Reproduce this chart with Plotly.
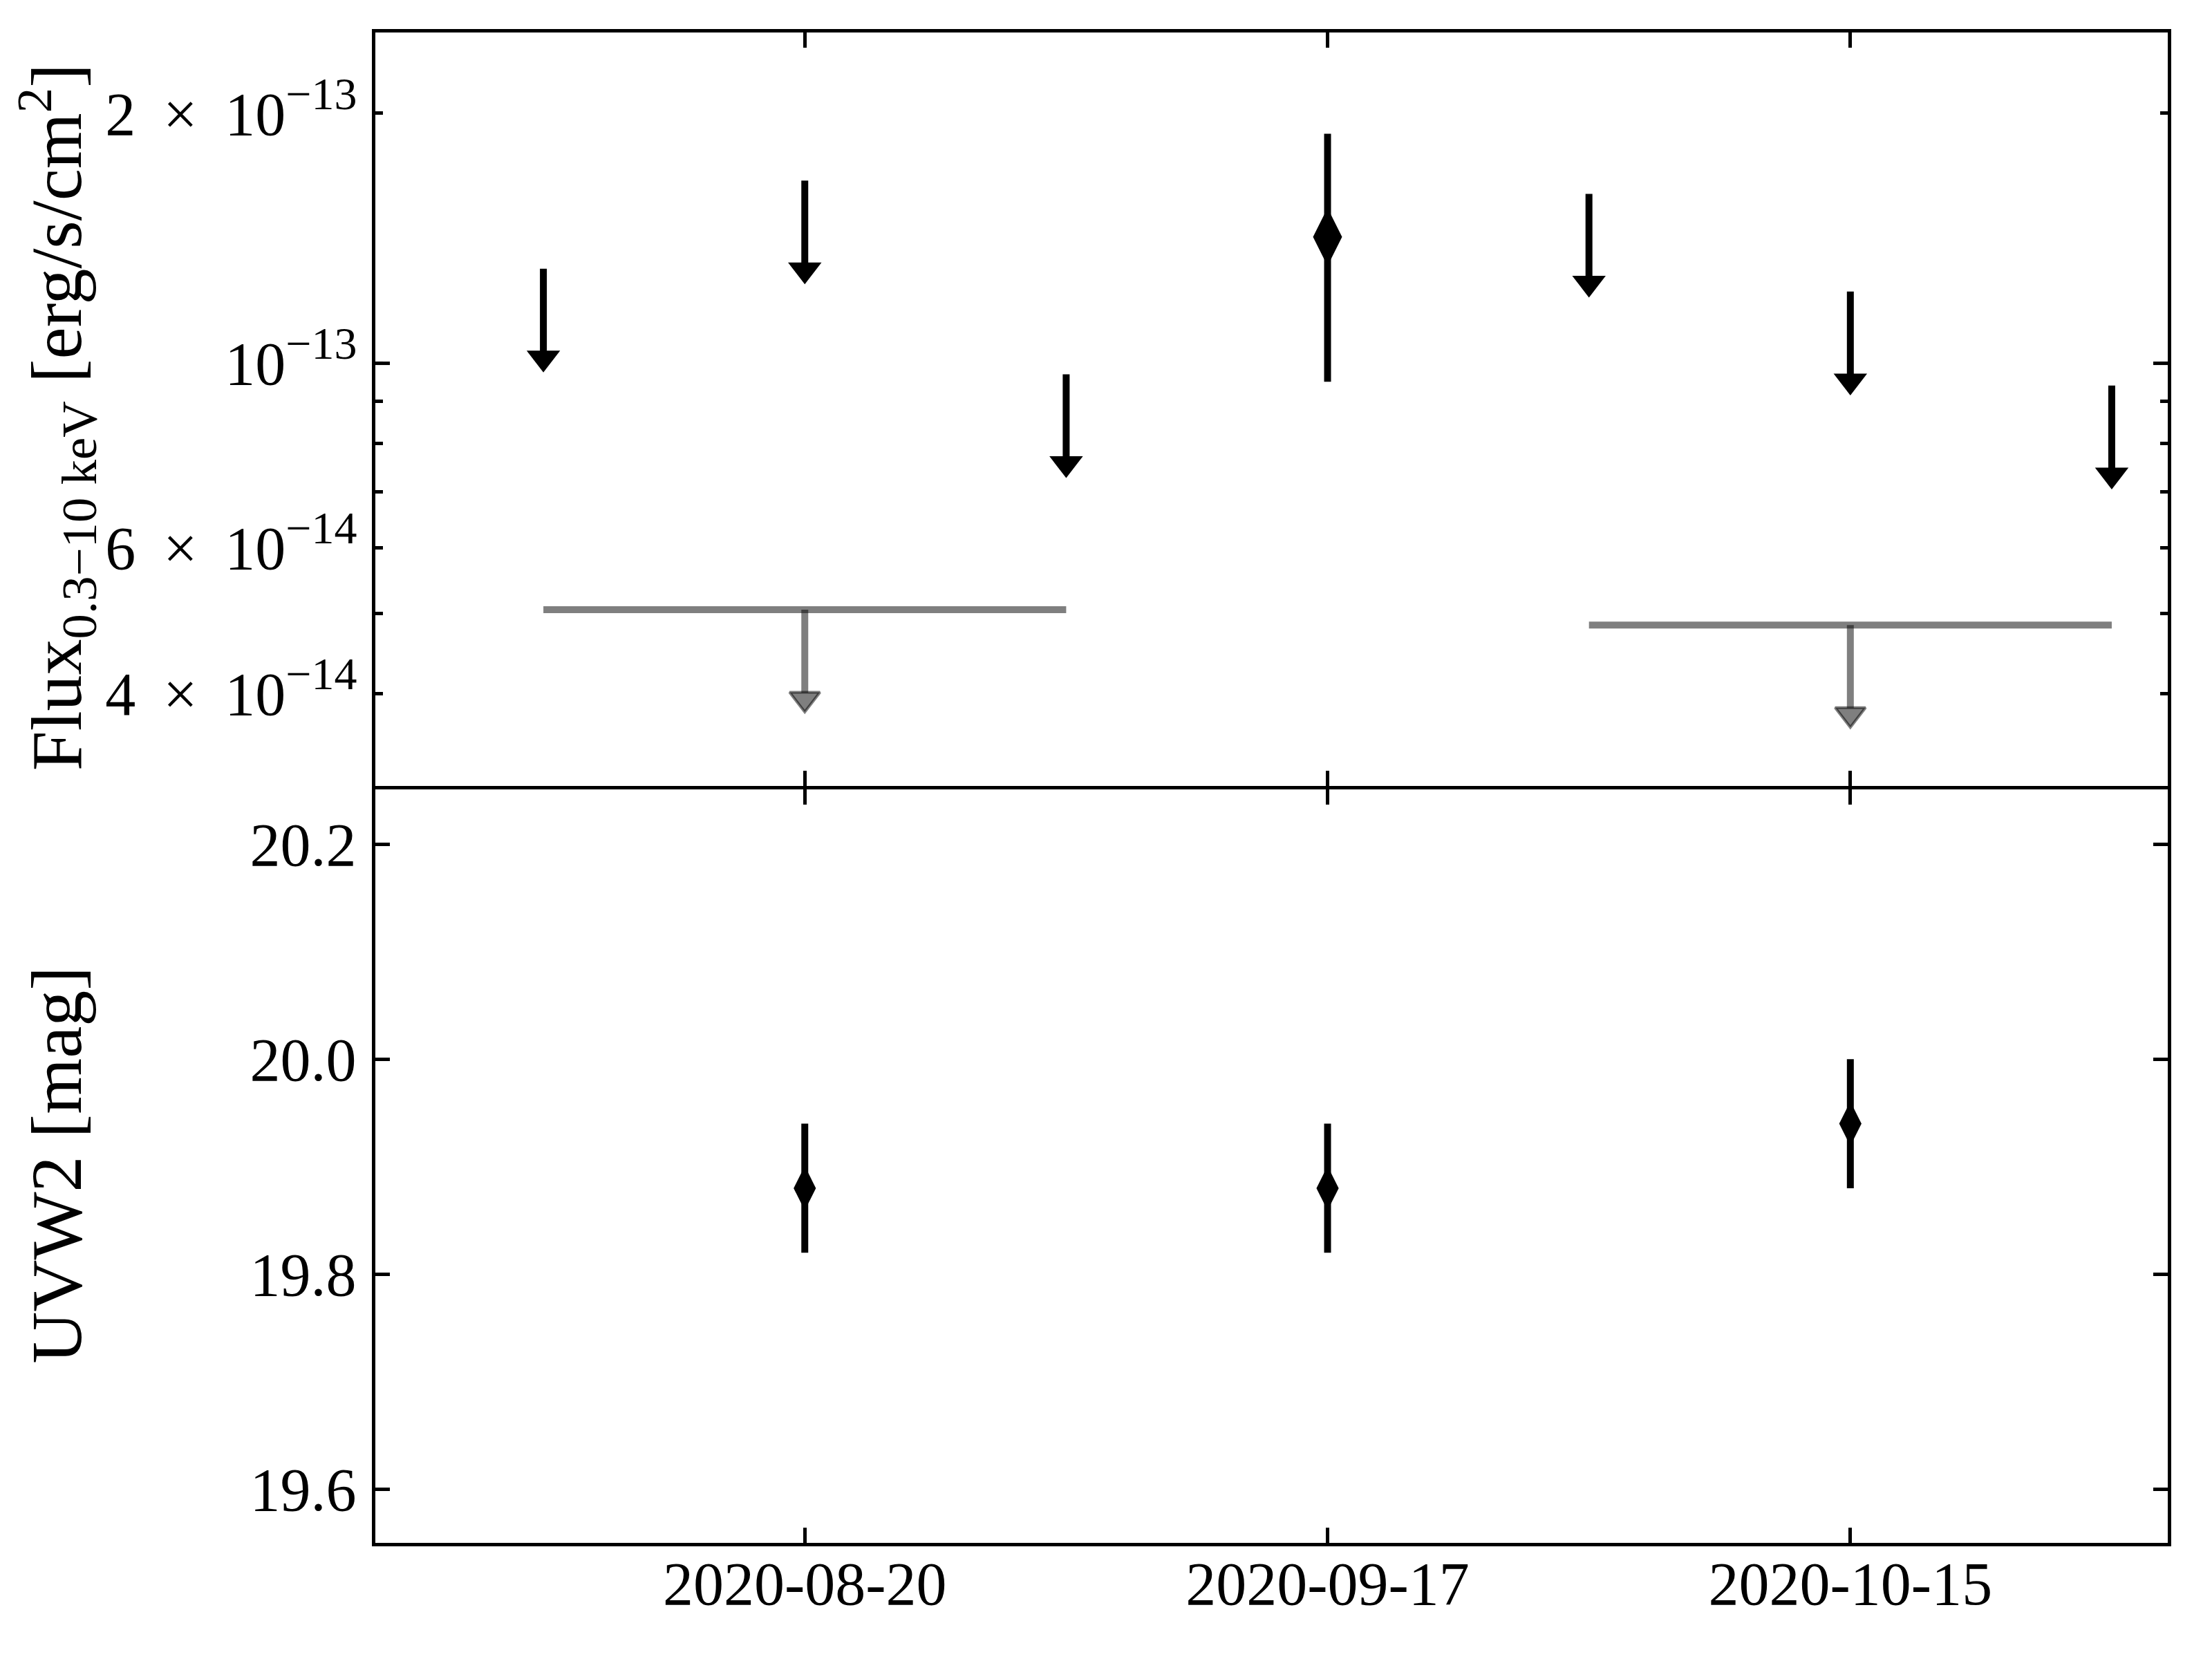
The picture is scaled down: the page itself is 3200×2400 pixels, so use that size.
import plotly.graph_objects as go
from plotly.subplots import make_subplots
import pandas as pd

# ---------------- data ----------------
# X-ray upper limits (single observations)
ul_dates = ["2020-08-06", "2020-08-20", "2020-09-03", "2020-10-01", "2020-10-15", "2020-10-29"]
ul_flux = [1.30e-13, 1.66e-13, 9.7e-14, 1.60e-13, 1.22e-13, 9.4e-14]

# X-ray detection
det_dates = ["2020-09-17"]
det_flux = [1.42e-13]
det_err = [4.7e-14]

# stacked upper limits (grey)
stack_dates = ["2020-08-20", "2020-10-15"]
stack_flux = [5.05e-14, 4.84e-14]
stack_halfspan_days = [14, 14]

# UVW2 magnitudes
uv_dates = ["2020-08-20", "2020-09-17", "2020-10-15"]
uv_mag = [19.88, 19.88, 19.94]
uv_err = [0.06, 0.06, 0.06]

# axis ticks
SUP = '<sup><span style="font-size:66px">{}</span></sup>'
x_tickvals = ["2020-08-20", "2020-09-17", "2020-10-15"]
x_range = ["2020-07-28", "2020-11-01"]
flux_tickvals = [4e-14, 6e-14, 1e-13, 2e-13]
flux_ticktext = ["4 \u2009×\u2009 10" + SUP.format("−14"),
                 "6 \u2009×\u2009 10" + SUP.format("−14"),
                 "10" + SUP.format("−13"),
                 "2 \u2009×\u2009 10" + SUP.format("−13")]
flux_minor = [5e-14, 7e-14, 8e-14, 9e-14]
mag_tickvals = [19.6, 19.8, 20.0, 20.2]
mag_ticktext = ["19.6", "19.8", "20.0", "20.2"]

ARROW_FRAC = 0.25   # upper-limit arrow length (fraction of value)
SHAFT_PART = 0.8    # part of the arrow covered by the shaft (rest is the head)

# ---------------- styles ----------------
FONT = "Liberation Serif"
TICK_FS = 88
TITLE_FS = 104
LW = 10
AXW = 5
GREY = "rgba(0,0,0,0.5)"
HEAD = 42

FIG_W, FIG_H = 3192, 2392          # page body has an 8px margin
M_L, M_R, M_T, M_B = 535, 64, 39, 168
PLOT_H = FIG_H - M_T - M_B
PLOT_W = FIG_W - M_L - M_R
gap = AXW / PLOT_H                 # so the two boundary lines coincide

fig = make_subplots(rows=2, cols=1, shared_xaxes=True, vertical_spacing=0)


def shafts(dates, vals):
    xs, ys = [], []
    for d, f in zip(dates, vals):
        xs += [d, d, None]
        ys += [f, f * (1 - ARROW_FRAC) ** SHAFT_PART, None]
    return xs, ys


# black upper-limit arrows
ax_, ay_ = shafts(ul_dates, ul_flux)
fig.add_trace(go.Scatter(x=ax_, y=ay_, mode="lines",
                         line=dict(color="black", width=LW)), row=1, col=1)
fig.add_trace(go.Scatter(x=ul_dates, y=[f * (1 - ARROW_FRAC) for f in ul_flux],
                         mode="markers",
                         marker=dict(symbol="triangle-up", size=HEAD, color="black",
                                     angle=180, standoff=HEAD / 2,
                                     line=dict(width=0))), row=1, col=1)

# grey stacked limits
sx, sy = [], []
for d, f, h in zip(stack_dates, stack_flux, stack_halfspan_days):
    t = pd.Timestamp(d)
    sx += [(t - pd.Timedelta(days=h)).strftime("%Y-%m-%d"),
           (t + pd.Timedelta(days=h)).strftime("%Y-%m-%d"), None]
    sy += [f, f, None]
fig.add_trace(go.Scatter(x=sx, y=sy, mode="lines", line=dict(color=GREY, width=LW)),
              row=1, col=1)
gx, gy = shafts(stack_dates, stack_flux)
fig.add_trace(go.Scatter(x=gx, y=gy, mode="lines", line=dict(color=GREY, width=LW)),
              row=1, col=1)
fig.add_trace(go.Scatter(x=stack_dates, y=[f * (1 - ARROW_FRAC) for f in stack_flux],
                         mode="markers",
                         marker=dict(symbol="triangle-up", size=HEAD - 4, color=GREY,
                                     angle=180, standoff=HEAD / 2,
                                     line=dict(width=4, color=GREY))), row=1, col=1)

# detection
fig.add_trace(go.Scatter(x=det_dates, y=det_flux, mode="markers",
                         marker=dict(symbol="diamond-tall", size=60, color="black"),
                         error_y=dict(type="data", array=det_err, thickness=LW,
                                      width=0, color="black")), row=1, col=1)

# UVW2
fig.add_trace(go.Scatter(x=uv_dates, y=uv_mag, mode="markers",
                         marker=dict(symbol="diamond-tall", size=46, color="black"),
                         error_y=dict(type="data", array=uv_err, thickness=LW,
                                      width=0, color="black")), row=2, col=1)

axis_common = dict(showline=True, linewidth=AXW, linecolor="black", mirror="ticks",
                   ticks="inside", tickwidth=AXW, tickcolor="black",
                   showgrid=False, zeroline=False,
                   tickfont=dict(family=FONT, size=TICK_FS, color="black"))

fig.update_xaxes(**axis_common, range=x_range, tickvals=x_tickvals,
                 ticktext=x_tickvals, ticklen=22)
fig.update_xaxes(showticklabels=False, row=1, col=1)
fig.update_xaxes(showticklabels=True, ticklabelstandoff=-22, row=2, col=1)

fig.update_yaxes(**axis_common, row=1, col=1)
fig.update_yaxes(type="log", range=[-13.509, -12.6016], tickvals=flux_tickvals,
                 ticktext=flux_ticktext, ticklen=11, ticklabelstandoff=4,
                 minor=dict(tickvals=flux_minor, ticks="inside", ticklen=11,
                            tickwidth=AXW, tickcolor="black", showgrid=False),
                 row=1, col=1)
fig.update_yaxes(**axis_common, row=2, col=1)
fig.update_yaxes(range=[19.55, 20.251], tickvals=mag_tickvals, ticktext=mag_ticktext,
                 ticklen=21, ticklabelstandoff=5, row=2, col=1)

fig.update_layout(yaxis=dict(domain=[0.5 + gap / 2, 1.0]),
                  yaxis2=dict(domain=[0.0, 0.5 - gap / 2]))

# long major tick at 1e-13 (left and right)
for anchor, x0, x1 in [(0, 0, 21), (1, -21, 0)]:
    fig.add_shape(type="line", xref="x domain", yref="y", xsizemode="pixel",
                  xanchor=anchor, x0=x0, x1=x1, y0=1e-13, y1=1e-13,
                  line=dict(color="black", width=AXW))

title_x = (74 - M_L) / PLOT_W
fig.add_annotation(text="Flux<sub>0.3−10 keV</sub> [erg/s/cm<sup>2</sup>]",
                   xref="paper", yref="paper", x=title_x, y=0.745, textangle=-90,
                   showarrow=False, xanchor="center", yanchor="middle",
                   font=dict(family=FONT, size=TITLE_FS, color="black"))
fig.add_annotation(text="UVW2 [mag]",
                   xref="paper", yref="paper", x=title_x, y=0.25, textangle=-90,
                   showarrow=False, xanchor="center", yanchor="middle",
                   font=dict(family=FONT, size=TITLE_FS, color="black"))

fig.update_layout(width=FIG_W, height=FIG_H, showlegend=False,
                  plot_bgcolor="white", paper_bgcolor="white",
                  margin=dict(l=M_L, r=M_R, t=M_T, b=M_B, autoexpand=False),
                  font=dict(family=FONT, color="black"))

fig.write_html("out.html")
